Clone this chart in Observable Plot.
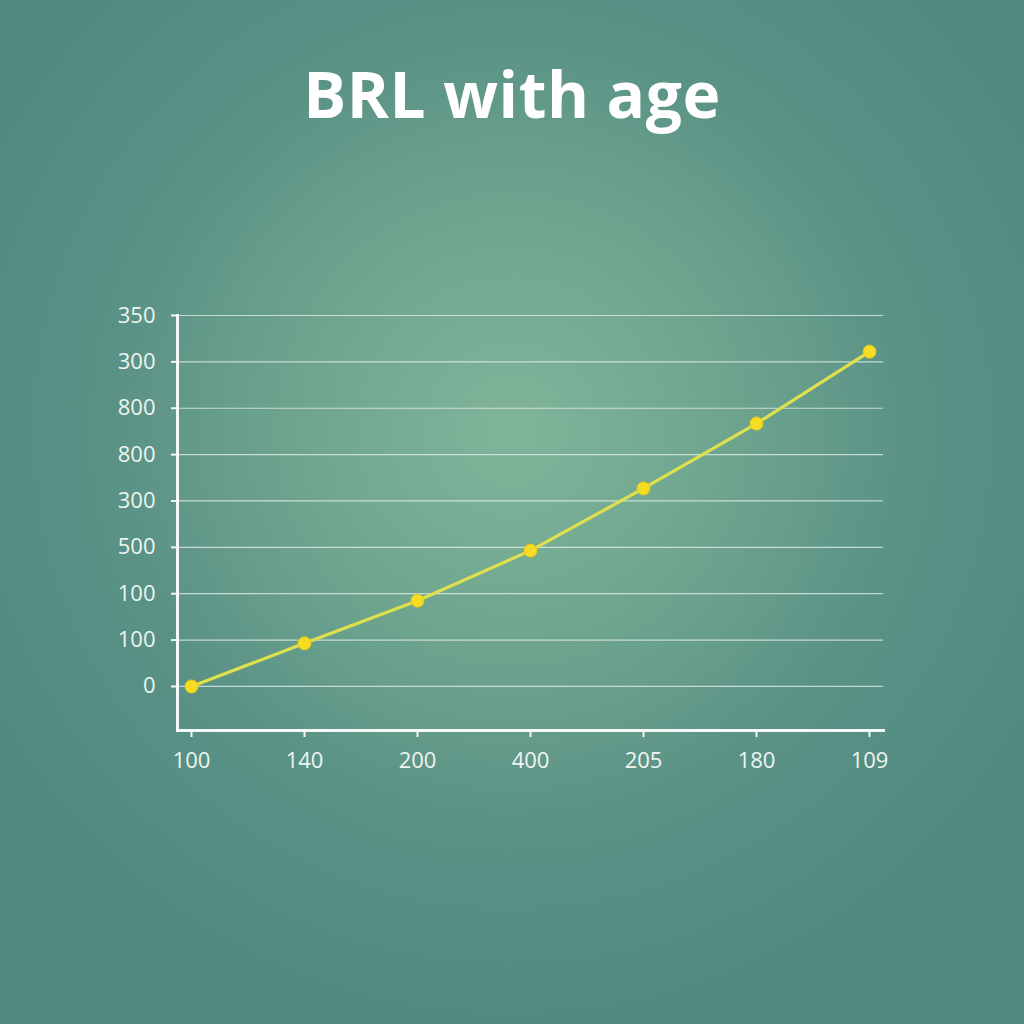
<!DOCTYPE html>
<html>
<head>
<meta charset="utf-8">
<script src="https://cdn.jsdelivr.net/npm/d3@7"></script>
<script src="https://cdn.jsdelivr.net/npm/@observablehq/plot@0.6"></script>
<style>
  html, body { margin: 0; padding: 0; }
  body {
    width: 1024px; height: 1024px; overflow: hidden; position: relative;
    background: radial-gradient(ellipse 62% 62% at 50% 42%, #80b59b 0%, #6ea48e 35%, #5a9286 62%, #4e887e 100%);
    font-family: "Open Sans", "Noto Sans", sans-serif;
  }
  #title {
    position: absolute; left: 0; top: 50px; width: 1024px; text-align: center;
    color: #ffffff; font-weight: 700; font-size: 64px; font-family: "Open Sans", "Noto Sans", sans-serif;
    letter-spacing: 0.5px;
  }
  #chart { position: absolute; left: 0; top: 0; }
</style>
</head>
<body>
<div id="title">BRL with age</div>
<div id="chart"></div>
<script>
const xLabels = ["100", "140", "200", "400", "205", "180", "109"];
const yTickLabels = ["0", "100", "100", "500", "300", "800", "800", "300", "350"];
const yValues = [0.0, 0.93, 1.85, 2.93, 4.27, 5.67, 7.22];

const data = xLabels.map((x, i) => ({x, y: yValues[i]}));
const yTicks = yTickLabels.map((_, i) => i);

const chart = Plot.plot({
  width: 1024,
  height: 1024,
  marginLeft: 177,
  marginRight: 141,
  marginTop: 315,
  marginBottom: 294,
  style: {background: "transparent", color: "#eef5f0", fontFamily: "'Open Sans', 'Noto Sans', sans-serif"},
  x: {type: "point", domain: xLabels, range: [188, 871], padding: 0},
  y: {domain: [-0.95, 8], range: [730, 315]},
  marks: [
    Plot.ruleY(yTicks, {stroke: "#e8f2ee", strokeOpacity: 0.75, strokeWidth: 1.2}),
    Plot.axisY({
      ticks: yTicks,
      tickFormat: i => yTickLabels[i],
      tickSize: 6,
      tickPadding: 16,
      fontSize: 22,
      stroke: "#f2f7f4",
      strokeWidth: 2,
      fill: "#eef5f0",
      label: null
    }),
    Plot.axisX({
      tickSize: 7,
      tickPadding: 15,
      fontSize: 22,
      stroke: "#f2f7f4",
      strokeWidth: 2,
      fill: "#eef5f0",
      label: null
    }),
    Plot.frame({anchor: "left", stroke: "#f4f8f6", strokeWidth: 3}),
    Plot.frame({anchor: "bottom", stroke: "#f4f8f6", strokeWidth: 3}),
    Plot.line(data, {x: "x", y: "y", stroke: "#dfe04e", strokeWidth: 3.2}),
    Plot.dot(data, {x: "x", y: "y", r: 6.5, fill: "#f6dc22", stroke: "#e8c81a", strokeWidth: 1})
  ]
});
document.getElementById("chart").appendChild(chart);
</script>
</body>
</html>
